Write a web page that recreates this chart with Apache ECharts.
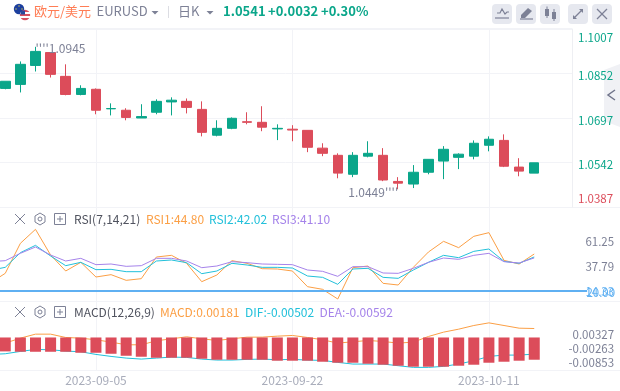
<!DOCTYPE html>
<html><head><meta charset="utf-8">
<style>html,body{margin:0;padding:0;background:#fff}#c{width:620px;height:391px}</style>
<script src="https://cdn.jsdelivr.net/npm/echarts@6/dist/echarts.min.js"></script>
</head><body><div id="c"></div>
<script>
const dates = ['2023-08-28','2023-08-29','2023-08-30','2023-08-31','2023-09-01','2023-09-04','2023-09-05','2023-09-06','2023-09-07','2023-09-08','2023-09-11','2023-09-12','2023-09-13','2023-09-14','2023-09-15','2023-09-18','2023-09-19','2023-09-20','2023-09-21','2023-09-22','2023-09-25','2023-09-26','2023-09-27','2023-09-28','2023-09-29','2023-10-02','2023-10-03','2023-10-04','2023-10-05','2023-10-06','2023-10-09','2023-10-10','2023-10-11','2023-10-12','2023-10-13','2023-10-16'];
const earlierDates = ['2023-08-25'];
const shownDates = ['2023-09-05','2023-09-22','2023-10-11'];
// open, close, low, high
const candles = [
[1.0800,1.0825,1.0797,1.0825],[1.0814,1.0884,1.0786,1.0894],[1.0880,1.0929,1.0859,1.0945],[1.0925,1.0849,1.0838,1.0925],
[1.0842,1.0779,1.0776,1.0884],[1.0779,1.0800,1.0776,1.0811],[1.0797,1.0724,1.0710,1.0800],[1.0729,1.0730,1.0706,1.0748],
[1.0724,1.0699,1.0689,1.0731],[1.0697,1.0702,1.0697,1.0745],[1.0717,1.0755,1.0710,1.0762],[1.0753,1.0759,1.0706,1.0769],
[1.0755,1.0734,1.0713,1.0765],[1.0727,1.0647,1.0633,1.0755],[1.0637,1.0661,1.0633,1.0689],[1.0661,1.0696,1.0658,1.0699],
[1.0684,1.0682,1.0675,1.0717],[1.0682,1.0665,1.0651,1.0738],[1.0659,1.0661,1.0620,1.0675],[1.0658,1.0655,1.0616,1.0672],
[1.0654,1.0595,1.0578,1.0654],[1.0592,1.0574,1.0564,1.0609],[1.0567,1.0505,1.0487,1.0574],[1.0501,1.0567,1.0491,1.0578],
[1.0564,1.0574,1.0560,1.0616],[1.0567,1.0481,1.0477,1.0592],[1.0476,1.0470,1.0449,1.0491],[1.0467,1.0508,1.0453,1.0533],
[1.0508,1.0553,1.0501,1.0553],[1.0547,1.0588,1.0484,1.0599],[1.0560,1.0571,1.0519,1.0574],[1.0564,1.0609,1.0553,1.0619],
[1.0602,1.0623,1.0581,1.0633],[1.0619,1.0529,1.0526,1.0640],[1.0526,1.0512,1.0494,1.0557],[1.0505,1.0541,1.0505,1.0541]];
const priceTicks = {min:1.0387,max:1.1007,step:0.0155};
// the lower panels start one session earlier, cut off by the left edge
const rsi1 = [17.60,26.66,54.80,67.93,43.86,28.85,36.98,23.22,25.41,20.09,21.65,41.98,43.54,36.04,18.84,25.09,38.54,36.04,31.03,30.72,28.85,14.15,11.65,2.58,31.97,33.54,17.27,15.71,32.29,46.67,56.68,50.73,61.37,64.81,38.85,35.41,44.80];
const rsi2 = [29.50,32.29,46.04,52.92,42.92,33.85,36.98,30.10,30.41,28.22,28.22,38.23,39.17,36.66,26.34,28.85,36.04,34.47,32.29,32.29,31.66,24.16,22.90,16.34,30.72,31.35,22.90,21.97,29.78,36.98,43.54,41.35,47.29,49.48,37.91,36.04,42.02];
const rsi3 = [37.60,38.54,45.42,51.36,43.86,38.23,40.73,34.79,35.41,33.22,33.85,40.73,40.73,38.23,31.97,33.54,37.60,36.66,35.41,35.10,34.79,29.78,28.53,23.84,32.91,32.91,26.97,26.66,31.35,36.98,41.04,39.79,43.54,45.42,37.60,36.35,41.10];
const rsiTicks = [14.33,37.79,61.25];
const rsiGuide = 10.4, rsiGuideLabel = '20.00';
const macdBars = [null,-.0060,-.00615,-.00615,-.00615,-.00615,-.00658,-.00658,-.00701,-.00787,-.00829,-.00872,-.00872,-.00872,-.00915,-.00958,-.00958,-.00958,-.00958,-.0100,-.0100,-.0100,-.01044,-.01087,-.01087,-.0113,-.01173,-.01216,-.01258,-.01258,-.01258,-.01216,-.01173,-.01087,-.01044,-.0100,-.00958];
const macdLine = [-.00315,-.00243,-.00029,.00143,.00143,0,-.00029,-.00100,-.00200,-.00315,-.00315,-.00143,-.00057,.00029,-.00057,-.00129,-.00057,.00014,.00014,.00057,.00086,0,-.00100,-.00243,-.00186,-.00129,-.00172,-.00243,-.00200,.00043,.00229,.00358,.00515,.00629,.00515,.00400,.00386];
const difLine = [-.0073,-.00701,-.00601,-.00515,-.00529,-.00586,-.00615,-.00729,-.00815,-.00887,-.00930,-.00887,-.00844,-.00858,-.00930,-.00972,-.00972,-.00944,-.00930,-.00958,-.00944,-.00972,-.00987,-.01073,-.01144,-.01144,-.01144,-.01216,-.01287,-.01287,-.01244,-.01144,-.01001,-.00815,-.00758,-.00758,-.00715];
const macdTicks = [0.00327,-0.00263,-0.00853];

const GREEN='#0aa68a',RED='#dc4c5a',ORANGE='#fb9f45',CYAN='#22c0da',PURPLE='#a583ea',BLUE='#5fb0f2',GRAY='#7d8196',LINE='#f2f3f7',FONT='"Noto Sans CJK SC","Noto Sans",sans-serif';
const highest = Math.max(...candles.map(c=>c[3])), lowest = Math.min(...candles.map(c=>c[2]));
const hiIdx = candles.findIndex(c=>c[3]===highest), loIdx = candles.findIndex(c=>c[2]===lowest);

function xAxis(gridIndex, cats, labels){
  const show = i => shownDates.includes(cats[i]);
  return {type:'category',gridIndex,data:cats,boundaryGap:true,
    axisLine:{show:false},axisTick:{show:false},
    splitLine:{show:true,alignWithLabel:true,interval:show,lineStyle:{color:LINE,width:1}},
    axisLabel:{show:labels,interval:show,color:'#a9adbb',fontFamily:FONT,fontSize:12,margin:4}};
}
function txt(text,x,y,fill,size,weight){
  return {type:'text',silent:true,z:100,style:{text,x,y,fill,font:(weight||'normal')+' '+(size||12)+'px '+FONT,textVerticalAlign:'middle'}};
}
function ln(x1,y1,x2,y2,stroke,w){
  return {type:'line',silent:true,shape:{x1,y1,x2,y2},style:{stroke,lineWidth:w||1}};
}
function poly(points,fill){return {type:'polygon',silent:true,shape:{points},style:{fill}};}
function pline(points,stroke,w){return {type:'polyline',silent:true,shape:{points},style:{stroke,lineWidth:w||1.2,fill:null}};}
function btn(x){return {type:'rect',silent:true,shape:{x,y:4,width:20,height:20,r:4},style:{fill:'#e6e8ef'}};}
function panelIcons(y){
  return [ln(15,y-5,25,y+5,GRAY),ln(25,y-5,15,y+5,GRAY),
    pline([[40,y-6],[45,y-3],[45,y+3],[40,y+6],[35,y+3],[35,y-3],[40,y-6]],GRAY,1),
    {type:'circle',silent:true,shape:{cx:40,cy:y,r:2},style:{stroke:GRAY,fill:null,lineWidth:1}},
    {type:'rect',silent:true,shape:{x:54.5,y:y-5.5,width:11,height:11},style:{stroke:GRAY,fill:null,lineWidth:1}},
    ln(57,y,63,y,GRAY),ln(60,y-3,60,y+3,GRAY)];
}
const graphics = [
  ln(0,29,572,29,LINE,2),ln(0,207.5,620,207.5,LINE,1),ln(0,301.5,620,301.5,LINE,1),ln(0,370.5,620,370.5,LINE,1),
  {type:'circle',silent:true,shape:{cx:19,cy:9,r:5.2},style:{fill:'#1c3f9e'}},
  {type:'circle',silent:true,shape:{cx:19,cy:6,r:.7},style:{fill:'#e7d24a'}},
  {type:'circle',silent:true,shape:{cx:22,cy:9,r:.7},style:{fill:'#e7d24a'}},
  {type:'circle',silent:true,shape:{cx:16,cy:9,r:.7},style:{fill:'#e7d24a'}},
  {type:'circle',silent:true,shape:{cx:25,cy:15,r:5.2},style:{fill:{type:'linear',x:0,y:0,x2:0,y2:1,colorStops:[{offset:0,color:'#d8505f'},{offset:.2,color:'#d8505f'},{offset:.2,color:'#fff'},{offset:.4,color:'#fff'},{offset:.4,color:'#d8505f'},{offset:.6,color:'#d8505f'},{offset:.6,color:'#fff'},{offset:.8,color:'#fff'},{offset:.8,color:'#d8505f'},{offset:1,color:'#d8505f'}]}}},
  {type:'rect',silent:true,shape:{x:20.5,y:10.5,width:4.5,height:4},style:{fill:'#2a4a9c'}},
  txt('欧元/美元',34,11,'#ff7d55',13),
  txt('EURUSD',96.5,11,GRAY,13),
  poly([[151.5,11],[158.5,11],[155,14.5]],GRAY),
  ln(168.5,6,168.5,18,'#dcdde3'),
  txt('日K',178,11,GRAY,13),
  poly([[206.5,11],[213.5,11],[210,14.5]],GRAY),
  txt('1.0541',223,11,GREEN,13,'bold'),
  txt('+0.0032',268,11,GREEN,13,'bold'),
  txt('+0.30%',321,11,GREEN,13,'bold'),
  btn(492),btn(516),btn(540),btn(568),btn(592),
  pline([[497,13],[500,13],[502,9],[505,14],[507,12],[509,12]],GRAY),ln(495,18,509,18,GRAY,1.2),
  poly([[521,15],[528,8],[532,11],[525,18],[521,18]],GRAY),ln(520,19,533,19,GRAY,1.2),
  {type:'rect',silent:true,shape:{x:545,y:9,width:4,height:7},style:{fill:GRAY}},ln(547,6.5,547,18,GRAY),
  {type:'rect',silent:true,shape:{x:552,y:12,width:4,height:7},style:{fill:GRAY}},ln(554,9,554,21,GRAY),
  ln(574,18,582,10,GRAY,1.2),poly([[579,9],[583,9],[583,13]],GRAY),poly([[573,15],[573,19],[577,19]],GRAY),
  ln(597,9,607,19,GRAY,1.2),ln(607,9,597,19,GRAY,1.2),
  poly([[620,64],[604,70],[604,121],[620,127]],'#f0f1f5'),
  pline([[615,90],[608,95],[615,100]],'#70748a',1.5),
  ...panelIcons(219),...panelIcons(312),
  txt('RSI(7,14,21)',74,219,'#50535f',12),
  txt('RSI1:44.80',146,219,ORANGE,12),
  txt('RSI2:42.02',209,219,CYAN,12),
  txt('RSI3:41.10',272,219,PURPLE,12),
  txt('MACD(12,26,9)',74,312,'#50535f',12),
  txt('MACD:0.00181',160,312,ORANGE,12),
  txt('DIF:-0.00502',245,312,CYAN,12),
  txt('DEA:-0.00592',319.5,312,PURPLE,12)
];
const thin = c => ({type:'line',showSymbol:false,smooth:false,silent:true,lineStyle:{color:c,width:1},itemStyle:{color:c}});
const priceLabelKey = v => v>=priceTicks.max-1e-6?'hi':(v<=priceTicks.min+1e-6?'lo':'mid');
const option = {
  animation:false,backgroundColor:'#fff',
  grid:[{left:-2.27,top:29,width:574.3,height:178,outerBoundsMode:'none'},{left:-17.41,top:208,width:604.54,height:93,outerBoundsMode:'none'},{left:-17.41,top:301,width:589.44,height:69,outerBoundsMode:'none'}],
  xAxis:[xAxis(0,dates.concat(['','']),false),xAxis(1,earlierDates.concat(dates,['','','']),false),xAxis(2,earlierDates.concat(dates,['','']),true)],
  yAxis:[
   {type:'value',gridIndex:0,position:'right',min:priceTicks.min,max:priceTicks.max,interval:priceTicks.step,
    axisLine:{show:true,lineStyle:{color:'#eeeff3'}},axisTick:{show:false},splitLine:{show:true,lineStyle:{color:LINE}},
    axisLabel:{margin:6,fontFamily:FONT,fontSize:11.5,formatter:v=>'{'+priceLabelKey(v)+'|'+v.toFixed(4)+'}',
      verticalAlign:'top',verticalAlignMinLabel:'bottom',verticalAlignMaxLabel:'top',
      rich:{hi:{color:GREEN,lineHeight:18},mid:{color:GREEN,lineHeight:5},lo:{color:RED,lineHeight:16}}}},
   {type:'value',gridIndex:1,position:'right',min:0.71,max:87.95,axisLine:{show:false},axisTick:{show:false},splitLine:{show:false},
    axisLabel:{customValues:rsiTicks,align:'right',margin:27,fontFamily:FONT,fontSize:11.5,color:v=>v<20?BLUE:GRAY,formatter:v=>v.toFixed(2),verticalAlign:'top',lineHeight:10}},
   {type:'value',gridIndex:2,position:'right',min:-0.0140,max:0.0157,axisLine:{show:false},axisTick:{show:false},splitLine:{show:false},
    axisLabel:{customValues:macdTicks,align:'right',margin:42,fontFamily:FONT,fontSize:11.5,color:GRAY,formatter:v=>v.toFixed(5),verticalAlign:'top',lineHeight:10}}
  ],
  series:[
   {type:'candlestick',xAxisIndex:0,yAxisIndex:0,data:candles,barWidth:10,clip:false,silent:true,
    itemStyle:{color:GREEN,color0:RED,borderColor:GREEN,borderColor0:RED,borderWidth:1},
    markPoint:{silent:true,symbol:'circle',symbolSize:0,animation:false,data:[
      {coord:[hiIdx,highest],value:highest,label:{show:true,position:'right',distance:0,offset:[0,2],color:GRAY,fontFamily:FONT,fontSize:12,formatter:p=>"''''"+p.value.toFixed(4)}},
      {coord:[loIdx,lowest],value:lowest,label:{show:true,position:'left',distance:0,offset:[0,3],color:GRAY,fontFamily:FONT,fontSize:12,formatter:p=>p.value.toFixed(4)+"''''"}}
    ]}},
   Object.assign(thin(ORANGE),{xAxisIndex:1,yAxisIndex:1,data:rsi1,
     markLine:{silent:true,symbol:'none',animation:false,lineStyle:{color:BLUE,width:2,type:'solid'},data:[{yAxis:rsiGuide}],
       label:{show:true,position:'insideEndTop',distance:0,color:BLUE,fontFamily:FONT,fontSize:11.5,formatter:rsiGuideLabel,offset:[28,8]}}}),
   Object.assign(thin(CYAN),{xAxisIndex:1,yAxisIndex:1,data:rsi2}),
   Object.assign(thin(PURPLE),{xAxisIndex:1,yAxisIndex:1,data:rsi3}),
   Object.assign(thin(ORANGE),{xAxisIndex:2,yAxisIndex:2,data:macdLine,z:2}),
   Object.assign(thin(CYAN),{xAxisIndex:2,yAxisIndex:2,data:difLine,z:2}),
   {type:'bar',xAxisIndex:2,yAxisIndex:2,data:macdBars,barWidth:11,z:3,silent:true,itemStyle:{color:RED}}
  ],
  graphic:{elements:graphics}
};
echarts.init(document.getElementById('c'),null,{renderer:'canvas'}).setOption(option);
</script></body></html>
